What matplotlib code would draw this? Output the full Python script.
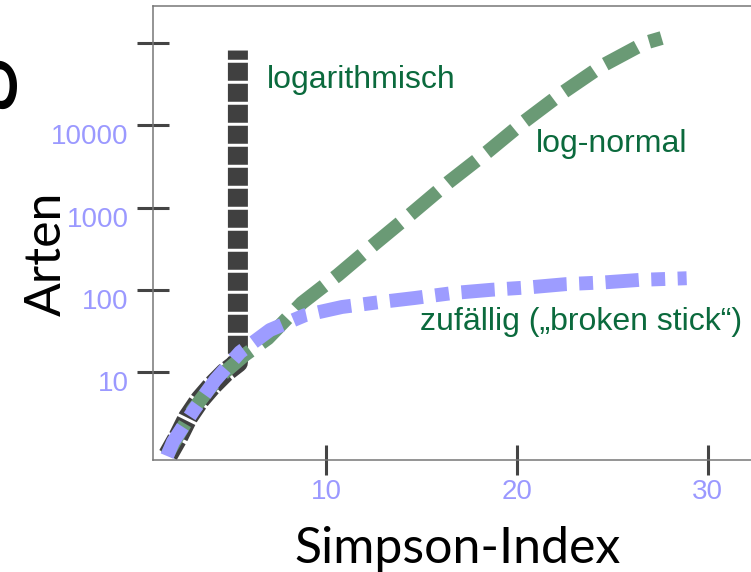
import matplotlib.pyplot as plt
import matplotlib.transforms as mtransforms
from matplotlib.ticker import FixedLocator, NullLocator

# Simpson-Index gegen Artenzahl für drei Modelle der Artenhäufigkeit
log_series_x = [1.73, 2.25, 2.77, 3.40, 4.03, 4.71, 5.39, 5.39, 5.39, 5.39, 5.39]
log_series_s = [0.98, 1.6, 2.8, 4.6, 6.8, 9.8, 13, 100, 1000, 10000, 81000]

lognormal_x = [1.68, 2.36, 3.04, 3.82, 4.71, 5.76, 6.96, 8.74, 10.63, 12.57,
               14.50, 16.44, 18.43, 20.37, 22.36, 24.45, 26.70, 27.59]
lognormal_s = [0.98, 1.86, 3.47, 6.0, 10, 16.2, 25.7, 69, 151, 363,
               851, 2040, 4680, 11000, 24500, 52500, 100000, 115000]

broken_x = [1.68, 1.99, 3.09, 4.19, 5.50, 7.07, 8.90, 10.84, 12.83, 14.66,
            16.65, 18.69, 20.68, 22.57, 24.61, 26.49, 28.90]
broken_s = [0.95, 1.41, 3.47, 7.9, 17.4, 32.4, 49, 61.7, 70.8, 79.4,
            91.2, 100, 107, 117, 123, 132, 138]

x_ticks = [10, 20, 30]
y_ticks = [10, 100, 1000, 10000, 100000]
y_tick_labels = ['10', '100', '1000', '10000', '']

tick_blue = '#9b99ff'
text_green = '#0b6a3d'

fig = plt.figure(figsize=(7.51, 5.72), dpi=100)
ax = fig.add_axes([153 / 751, 112 / 572, 631 / 751, 454 / 572])

ax.plot(log_series_x, log_series_s, color='#404040', lw=14.4,
        dashes=(0.9, 0.15), dash_capstyle='butt', dash_joinstyle='round', zorder=2)
ax.plot(lognormal_x, lognormal_s, color='#6a9a75', lw=10,
        dashes=(2.6, 0.95), dash_capstyle='butt', zorder=3)
ax.plot(broken_x, broken_s, color='#9d9cff', lw=10,
        dashes=(2.4, 0.9, 1.0, 0.9), dash_capstyle='butt', zorder=4)

ax.set_yscale('log')
ax.set_xlim(0.942, 34)
ax.set_ylim(0.851, 281838)

ax.xaxis.set_major_locator(FixedLocator(x_ticks))
ax.yaxis.set_major_locator(FixedLocator(y_ticks))
ax.yaxis.set_minor_locator(NullLocator())
ax.set_yticklabels(y_tick_labels)

ax.tick_params(axis='y', direction='inout', length=23, width=2.2, color='#444444',
               labelsize=20, labelcolor=tick_blue, pad=6)
ax.tick_params(axis='x', direction='inout', length=21, width=2.2, color='#444444',
               labelsize=20, labelcolor=tick_blue, pad=3)

# y-Beschriftungen sitzen etwas unterhalb ihrer Striche
shift = mtransforms.ScaledTranslation(0, -9 / 100, fig.dpi_scale_trans)
for lab in ax.get_yticklabels():
    lab.set_transform(lab.get_transform() + shift)
for lab in ax.get_xticklabels() + ax.get_yticklabels():
    lab.set_family('Liberation Sans')

for side in ['left', 'bottom', 'top', 'right']:
    ax.spines[side].set_color('#777777')
    ax.spines[side].set_linewidth(1.1)

# Beschriftung der Kurven
ax.text(6.91, 28400, 'logarithmisch', color=text_green, fontsize=23,
        family='Liberation Sans', va='baseline')
ax.text(21.02, 4760, 'log-normal', color=text_green, fontsize=23,
        family='Liberation Sans', va='baseline')
ax.text(14.92, 32.4, 'zufällig („broken stick“)', color=text_green, fontsize=23,
        family='Liberation Sans', va='baseline')

ax.set_xlabel('Simpson-Index', fontsize=36, family='Lato', va='baseline')
ax.xaxis.set_label_coords(0.483, -0.227)
ax.set_ylabel('Arten', fontsize=36, family='Lato')
ax.yaxis.set_label_coords(-0.1315, 0.4537)

fig.text(-10 / 751, 1 - 48 / 572, 'log', fontsize=76, family='Lato', rotation=90,
         rotation_mode='anchor', ha='right', va='baseline')

fig.savefig('out.png', dpi=100)
